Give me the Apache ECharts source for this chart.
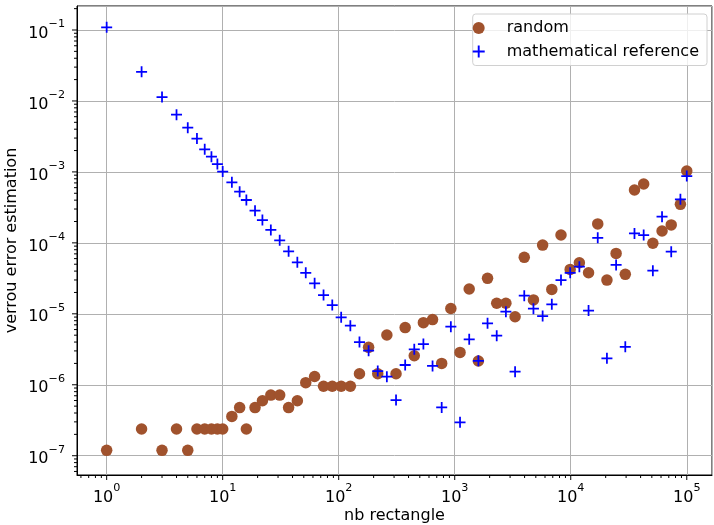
<!DOCTYPE html>
<html>
<head>
<meta charset="utf-8">
<script src="https://cdn.jsdelivr.net/npm/echarts@6/dist/echarts.min.js"></script>
<style>html,body{margin:0;padding:0;background:#fff;}#c{width:714px;height:525px;}</style>
</head>
<body>
<div id="c"></div>
<script>
// ---- data ----
const nbRectangle = [1,2,3,4,5,6,7,8,9,10,12,14,16,19,22,26,31,37,44,52,62,74,88,
  105,126,151,181,217,260,312,374,448,537,644,772,926,
  1111,1333,1599,1918,2301,2761,3313,3975,4770,5724,6868,8241,9889,
  11866,14239,17086,20503,24603,29523,35427,42512,51014,61216,73459,88150,100000];

const randomErr = [1.19e-7,2.38e-7,1.19e-7,2.38e-7,1.19e-7,2.38e-7,2.38e-7,2.38e-7,2.38e-7,2.38e-7,
  3.58e-7,4.77e-7,2.38e-7,4.77e-7,5.96e-7,7.15e-7,7.15e-7,4.77e-7,5.96e-7,1.07e-6,1.31e-6,9.54e-7,9.54e-7,
  9.54e-7,9.54e-7,1.43e-6,3.37e-6,1.43e-6,5.02e-6,1.43e-6,6.4e-6,2.56e-6,7.5e-6,8.3e-6,2.0e-6,1.19e-5,
  2.86e-6,2.24e-5,2.16e-6,3.16e-5,1.41e-5,1.41e-5,9.1e-6,6.25e-5,1.57e-5,9.3e-5,2.21e-5,1.29e-4,4.23e-5,
  5.25e-5,3.79e-5,1.85e-4,2.99e-5,7.1e-5,3.6e-5,5.56e-4,6.75e-4,9.86e-5,1.47e-4,1.79e-4,3.49e-4,1.03e-3];

const mathRef = [0.109,0.0258,0.01137,0.0064,0.0042,0.00295,0.00208,0.00164,0.00129,0.00101,
  7.13e-4,5.26e-4,4.02e-4,2.84e-4,2.1e-4,1.52e-4,1.086e-4,7.6e-5,5.32e-5,3.79e-5,2.69e-5,1.84e-5,1.33e-5,
  8.93e-6,6.8e-6,4.0e-6,3.02e-6,1.56e-6,1.30e-6,6.1e-7,1.9e-6,3.16e-6,3.75e-6,1.84e-6,4.8e-7,6.58e-6,
  2.96e-7,4.37e-6,2.18e-6,7.34e-6,4.91e-6,1.07e-5,1.53e-6,1.8e-5,1.18e-5,9.3e-6,1.36e-5,2.99e-5,3.79e-5,
  4.61e-5,1.11e-5,1.18e-4,2.36e-6,4.88e-5,3.43e-6,1.36e-4,1.29e-4,4.05e-5,2.34e-4,7.5e-5,4.11e-4,8.75e-4];

const xDecadeExponents = [0,1,2,3,4,5];
const yDecadeExponents = [-7,-6,-5,-4,-3,-2,-1];
const seriesNames = ['random', 'mathematical reference'];
const xTitle = 'nb rectangle';
const yTitle = 'verrou error estimation';

// ---- axis ranges ----
const xMin = 0.555, xMax = 1.65e5;
const yMin = 5.35e-8, yMax = 0.218;

const FONT = 'DejaVu Sans';

function expLabel(v) {
  const l = Math.log10(v);
  const e = Math.round(l);
  if (Math.abs(l - e) > 1e-6) return '';
  const es = e < 0 ? '\u2212' + (-e) : String(e);
  return '{b|10}{s|' + es + '}';
}
const rich = {
  b: {fontSize: 16, fontFamily: FONT, color: '#000', lineHeight: 23, verticalAlign: 'bottom'},
  s: {fontSize: 11.2, fontFamily: FONT, color: '#000', lineHeight: 10, verticalAlign: 'top'}
};

// tick marks (major at decades, minor at 2..9 x decade)
function tickList(lo, hi) {
  const out = [];
  for (let k = Math.floor(Math.log10(lo)) ; k <= Math.ceil(Math.log10(hi)); k++) {
    for (let m = 1; m <= 9; m++) {
      const v = m * Math.pow(10, k);
      if (v >= lo && v <= hi) out.push([v, m === 1 ? 5 : 3]);
    }
  }
  return out;
}
const xTicks = tickList(xMin, xMax);
const yTicks = tickList(yMin, yMax);

const crossPath = 'path://M4.2,0H5.8V4.2H10V5.8H5.8V10H4.2V5.8H0V4.2H4.2Z';

const chart = echarts.init(document.getElementById('c'), null, {renderer: 'canvas'});
chart.setOption({
  animation: false,
  backgroundColor: '#fff',
  grid: {left: 77, right: 2, top: 6, bottom: 50, show: true, borderColor: '#000', borderWidth: 1,
         containLabel: false, outerBoundsMode: 'none'},
  legend: {
    data: seriesNames,
    orient: 'vertical', right: 7, top: 14,
    itemWidth: 46, itemHeight: 12, itemGap: 5.5,
    padding: [5, 8, 5, 0],
    backgroundColor: 'rgba(255,255,255,0.8)',
    borderColor: '#d0d0d0', borderWidth: 1, borderRadius: 3,
    textStyle: {fontSize: 16, fontFamily: FONT, color: '#000', lineHeight: 18}
  },
  xAxis: {
    type: 'log', logBase: 10, min: xMin, max: xMax,
    axisLine: {show: true, lineStyle: {color: '#000', width: 1}},
    axisTick: {show: false},
    splitLine: {show: true, lineStyle: {color: '#b0b0b0', width: 1}},
    axisLabel: {formatter: expLabel, rich: rich, margin: 8, showMinLabel: false, showMaxLabel: false},
    name: xTitle, nameLocation: 'middle', nameGap: 33, nameMoveOverlap: false,
    nameTextStyle: {fontSize: 16, fontFamily: FONT, color: '#000'}
  },
  yAxis: {
    type: 'log', logBase: 10, min: yMin, max: yMax,
    axisLine: {show: true, lineStyle: {color: '#000', width: 1}},
    axisTick: {show: false},
    splitLine: {show: true, lineStyle: {color: '#b0b0b0', width: 1}},
    axisLabel: {formatter: expLabel, rich: rich, margin: 12, showMinLabel: false, showMaxLabel: false},
    name: yTitle, nameLocation: 'middle', nameGap: 57, nameMoveOverlap: false,
    nameTextStyle: {fontSize: 16, fontFamily: FONT, color: '#000'}
  },
  series: [
    {
      name: seriesNames[0], type: 'scatter',
      data: nbRectangle.map((x, i) => [x, randomErr[i]]),
      symbol: 'circle', symbolSize: 11.5,
      itemStyle: {color: '#A0522D', opacity: 1},
      z: 3
    },
    {
      name: seriesNames[1], type: 'scatter',
      data: nbRectangle.map((x, i) => [x, mathRef[i]]),
      symbol: crossPath, symbolSize: 11, symbolKeepAspect: true,
      itemStyle: {color: '#0000FF', opacity: 1},
      z: 4
    },
    {
      type: 'custom', silent: true, clip: false, z: 5,
      data: xTicks.map(t => [t[0], 1e-3, t[1]]),
      renderItem: function (params, api) {
        const x = api.coord([api.value(0), api.value(1)])[0];
        const yb = params.coordSys.y + params.coordSys.height;
        return {type: 'line', shape: {x1: x, y1: yb, x2: x, y2: yb + api.value(2)},
                style: {stroke: '#000', lineWidth: 1}};
      }
    },
    {
      type: 'custom', silent: true, clip: false, z: 5,
      data: yTicks.map(t => [10, t[0], t[1]]),
      renderItem: function (params, api) {
        const y = api.coord([api.value(0), api.value(1)])[1];
        const xl = params.coordSys.x;
        return {type: 'line', shape: {x1: xl, y1: y, x2: xl - api.value(2), y2: y},
                style: {stroke: '#000', lineWidth: 1}};
      }
    }
  ]
});
</script>
</body>
</html>
